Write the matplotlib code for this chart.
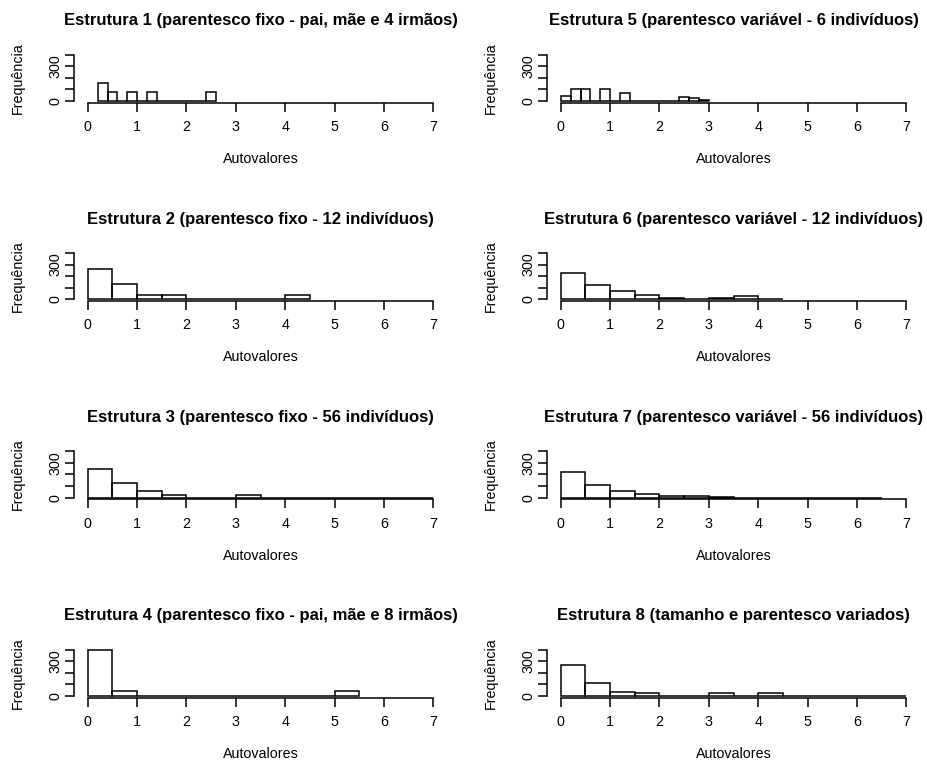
import matplotlib
matplotlib.use("Agg")
import matplotlib.pyplot as plt
import numpy as np

plt.rcParams['font.family'] = ['Liberation Sans', 'DejaVu Sans']

# titulos dos paineis (coluna esquerda de cima para baixo, depois a direita)
titles = [
    "Estrutura 1 (parentesco fixo - pai, mãe e 4 irmãos)",
    "Estrutura 2 (parentesco fixo - 12 indivíduos)",
    "Estrutura 3 (parentesco fixo - 56 indivíduos)",
    "Estrutura 4 (parentesco fixo - pai, mãe e 8 irmãos)",
    "Estrutura 5 (parentesco variável - 6 indivíduos)",
    "Estrutura 6 (parentesco variável - 12 indivíduos)",
    "Estrutura 7 (parentesco variável - 56 indivíduos)",
    "Estrutura 8 (tamanho e parentesco variados)",
]

# limites das classes e frequencias
breaks_1 = [0.2, 0.4, 0.6, 0.8, 1.0, 1.2, 1.4, 1.6, 1.8, 2.0, 2.2, 2.4, 2.6]
counts_1 = [160, 80, 0, 80, 0, 80, 0, 0, 0, 0, 0, 80]

breaks_2 = [0, 0.5, 1, 1.5, 2, 2.5, 3, 3.5, 4, 4.5]
counts_2 = [258, 128, 35, 35, 0, 0, 0, 0, 35]

breaks_3 = [0, 0.5, 1, 1.5, 2, 2.5, 3, 3.5, 4, 4.5, 5, 5.5, 6, 6.5, 7]
counts_3 = [246, 125, 55, 23, 0, 0, 26, 0, 0, 0, 0, 0, 0, 0]

breaks_4 = [0, 0.5, 1, 1.5, 2, 2.5, 3, 3.5, 4, 4.5, 5, 5.5]
counts_4 = [400, 44, 0, 0, 0, 0, 0, 0, 0, 0, 44]

breaks_5 = [0, 0.2, 0.4, 0.6, 0.8, 1.0, 1.2, 1.4, 1.6, 1.8, 2.0, 2.2, 2.4, 2.6, 2.8, 3.0]
counts_5 = [40, 100, 100, 0, 100, 0, 70, 0, 0, 0, 0, 0, 35, 23, 12]

breaks_6 = [0, 0.5, 1, 1.5, 2, 2.5, 3, 3.5, 4, 4.5]
counts_6 = [226, 125, 70, 35, 14, 3, 14, 26, 2]

breaks_7 = [0, 0.5, 1, 1.5, 2, 2.5, 3, 3.5, 4, 4.5, 5, 5.5, 6, 6.5]
counts_7 = [223, 113, 58, 35, 12, 12, 2, 1, 1, 1, 1, 1, 1]

breaks_8 = [0, 0.5, 1, 1.5, 2, 2.5, 3, 3.5, 4, 4.5, 5, 5.5, 6, 6.5, 7]
counts_8 = [268, 111, 35, 23, 0, 0, 23, 0, 23, 0, 0, 0, 0, 0]

all_breaks = [breaks_1, breaks_2, breaks_3, breaks_4, breaks_5, breaks_6, breaks_7, breaks_8]
all_counts = [counts_1, counts_2, counts_3, counts_4, counts_5, counts_6, counts_7, counts_8]

x_ticks = [0, 1, 2, 3, 4, 5, 6, 7]
y_ticks = [0, 100, 200, 300, 400]
y_labels = ['0', '', '', '300', '']

W, H = 927, 762
fig = plt.figure(figsize=(W / 100, H / 100), dpi=100, facecolor='white')

col_left = [74, 547]          # px
ax_w = 373
row_bottom = [102.9, 301.1, 499.5, 697.8]
ax_h = 50

for i in range(8):
    col = i // 4
    row = i % 4
    left = col_left[col] / W
    bottom = 1 - row_bottom[row] / H
    ax = fig.add_axes([left, bottom, ax_w / W, ax_h / H])

    br = np.array(all_breaks[i])
    ax.bar(br[:-1], all_counts[i], width=np.diff(br), align='edge',
           fill=False, edgecolor='black', linewidth=1.1)

    ax.set_xlim(-0.28, 7.28)
    ax.set_ylim(-16, 416)
    for s in ['top', 'right']:
        ax.spines[s].set_visible(False)
    ax.spines['bottom'].set_bounds(0, 7)
    ax.spines['left'].set_bounds(0, 400)
    ax.spines['bottom'].set_linewidth(1.1)
    ax.spines['left'].set_linewidth(1.1)

    ax.set_xticks(x_ticks)
    ax.set_yticks(y_ticks)
    ax.set_yticklabels(y_labels)
    ax.tick_params(axis='both', length=6.5, width=1.1, labelsize=10.3, colors='black')
    ax.tick_params(axis='x', pad=6)
    ax.tick_params(axis='y', pad=2)
    for lab in ax.get_yticklabels():
        lab.set_rotation(90)
        lab.set_va('center')

    ax.set_xlabel('Autovalores', fontsize=10.3)
    ax.xaxis.set_label_coords(0.5, -0.98)
    ax.text(-0.150, 0.5, 'Frequência', transform=ax.transAxes, rotation=90,
            ha='center', va='center', fontsize=10.3)

    ax.text(0.5, 1 + 32 / ax_h, titles[i], transform=ax.transAxes,
            ha='center', va='center', fontsize=12, fontweight='bold')

fig.savefig('out.png', dpi=100, facecolor='white')
